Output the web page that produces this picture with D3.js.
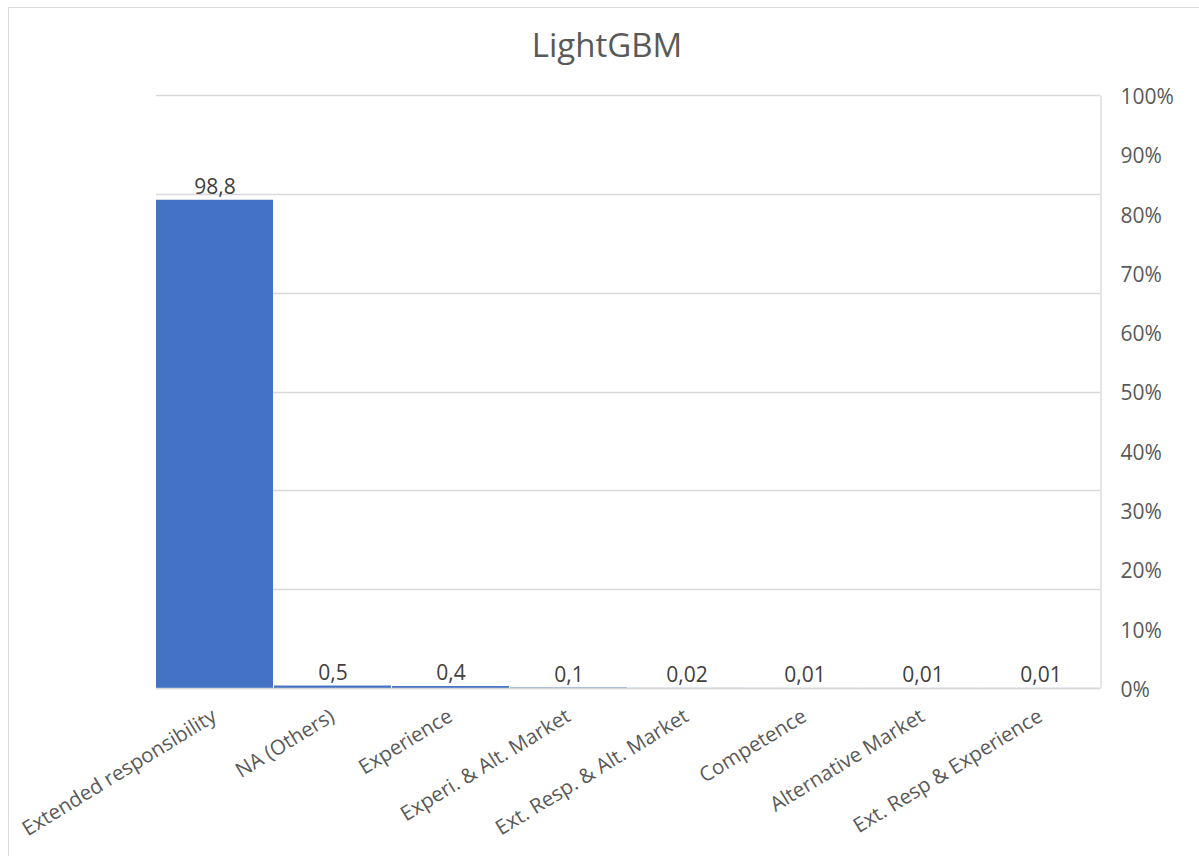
<!DOCTYPE html>
<html><head><meta charset="utf-8">
<script src="https://cdn.jsdelivr.net/npm/d3@7"></script>
<style>body{margin:0;background:#fff}svg{display:block}text{font-family:"Open Sans",sans-serif}</style>
</head><body><svg id="c" width="1199" height="856"></svg>
<script>
const categories = ["Extended responsibility","NA (Others)","Experience","Experi. & Alt. Market","Ext. Resp. & Alt. Market","Competence","Alternative Market","Ext. Resp & Experience"];
const values = [98.8,0.5,0.4,0.1,0.02,0.01,0.01,0.01];
const valueLabels = ["98,8","0,5","0,4","0,1","0,02","0,01","0,01","0,01"];
const primaryTicks = [0,20,40,60,80,100,120];
const pctTicks = [0,0.1,0.2,0.3,0.4,0.5,0.6,0.7,0.8,0.9,1];
const title = "LightGBM";

const svg = d3.select("#c");
const L = 156, R = 1100, T = 95, B = 688;
svg.append("rect").attr("x",8.5).attr("y",7.5).attr("width",1200).attr("height",860)
  .attr("fill","#fff").attr("stroke","#d9d9d9");

const x = d3.scaleBand().domain(categories).range([L,R]).padding(0);
const y = d3.scaleLinear().domain([0,120]).range([B,T]);
const y2 = d3.scaleLinear().domain([0,1]).range([B,T]);

svg.append("text").attr("x",607).attr("y",57).attr("text-anchor","middle")
  .attr("font-size",33).attr("fill","#595959").text(title);

// gridlines
svg.append("g").selectAll("line").data(primaryTicks).join("line")
  .attr("x1",L).attr("x2",R).attr("y1",d=>Math.round(y(d))+0.5).attr("y2",d=>Math.round(y(d))+0.5)
  .attr("stroke","#d9d9d9").attr("stroke-width",1.3);

// bars
svg.append("g").selectAll("rect").data(values).join("rect")
  .attr("x",(d,i)=>x(categories[i])).attr("width",x.bandwidth()-1)
  .attr("y",d=>y(d)).attr("height",d=>B-y(d)).attr("fill","#4472C4");

// value labels
svg.append("g").selectAll("text").data(values).join("text")
  .attr("x",(d,i)=>x(categories[i])+x.bandwidth()/2)
  .attr("y",d=>Math.min(y(d)-6, B-4))
  .attr("text-anchor","middle").attr("font-size",21).attr("fill","#404040")
  .text((d,i)=>valueLabels[i]);

// bottom axis line
svg.append("line").attr("x1",L).attr("x2",R).attr("y1",B+0.5).attr("y2",B+0.5)
  .attr("stroke","#d9d9d9").attr("stroke-width",1.5);

// right axis
const ax2 = d3.axisRight(y2).tickValues(pctTicks).tickFormat(d3.format(".0%")).tickSize(0).tickPadding(20);
const g2 = svg.append("g").attr("transform",`translate(${R+0.5},0)`).call(ax2);
g2.select(".domain").attr("stroke","#d9d9d9").attr("stroke-width",1.3);
g2.selectAll("text").attr("font-size",21).attr("fill","#595959").attr("font-family","Open Sans, sans-serif").attr("dy","0.4em");

// x labels
svg.append("g").selectAll("text").data(categories).join("text")
  .attr("transform",d=>`translate(${x(d)+x.bandwidth()/2+3},${B+32}) rotate(-31.5)`)
  .attr("text-anchor","end").attr("font-size",20.5).attr("fill","#595959").text(d=>d);
</script></body></html>
